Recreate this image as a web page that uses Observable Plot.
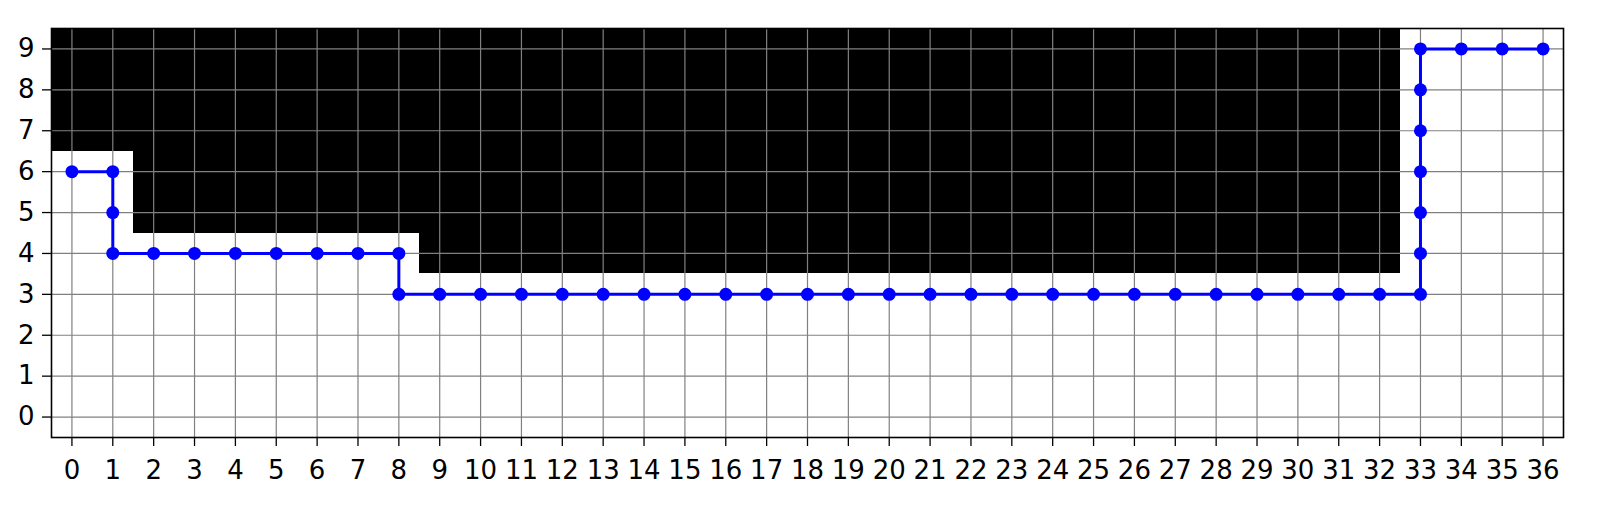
<!DOCTYPE html>
<html>
<head>
<meta charset="utf-8">
<script src="https://cdn.jsdelivr.net/npm/d3@7"></script>
<script src="https://cdn.jsdelivr.net/npm/@observablehq/plot@0.6"></script>
<style>
  html, body { margin: 0; padding: 0; background: #fff; }
  svg { display: block; }
</style>
</head>
<body>
<div id="chart"></div>
<script>
// Obstacle columns and the lowest blocked row in each (blocked up to row 9)
const obstacleCols = [0,1,2,3,4,5,6,7,8,9,10,11,12,13,14,15,16,17,18,19,20,21,22,23,24,25,26,27,28,29,30,31,32];
const obstacleFromRow = [7,7,5,5,5,5,5,5,5,4,4,4,4,4,4,4,4,4,4,4,4,4,4,4,4,4,4,4,4,4,4,4,4];
const topRow = 9;

// Path
const pathX = [0,1,1,1,2,3,4,5,6,7,8,8,9,10,11,12,13,14,15,16,17,18,19,20,21,22,23,24,25,26,27,28,29,30,31,32,33,33,33,33,33,33,33,34,35,36];
const pathY = [6,6,5,4,4,4,4,4,4,4,4,3,3,3,3,3,3,3,3,3,3,3,3,3,3,3,3,3,3,3,3,3,3,3,3,3,3,4,5,6,7,8,9,9,9,9];

// Tick labels
const xTicks = d3.range(0, 37);
const yTicks = d3.range(0, 10);

const obstacles = obstacleCols.map((c, i) => ({x: c, y1: obstacleFromRow[i], y2: topRow}));
const path = pathX.map((x, i) => ({x, y: pathY[i]}));

const font = "DejaVu Sans";
const chart = Plot.plot({
  width: 1610,
  height: 506,
  marginLeft: 51,
  marginRight: 47,
  marginTop: 28,
  marginBottom: 69,
  style: {fontFamily: font, fontSize: "26px", color: "black", background: "white"},
  x: {domain: [-0.5, 36.5], axis: null},
  y: {domain: [-0.5, 9.5], axis: null},
  marks: [
    Plot.rect(obstacles, {
      x1: d => d.x - 0.5, x2: d => d.x + 0.5,
      y1: d => d.y1 - 0.5, y2: d => d.y2 + 0.5,
      fill: "black", inset: 0, shapeRendering: "crispEdges"
    }),
    Plot.gridX(xTicks, {stroke: "#808080", strokeOpacity: 1, strokeWidth: 1.2}),
    Plot.gridY(yTicks, {stroke: "#808080", strokeOpacity: 1, strokeWidth: 1.2}),
    Plot.line(path, {x: "x", y: "y", stroke: "#0000ff", strokeWidth: 3}),
    Plot.dot(path, {x: "x", y: "y", fill: "#0000ff", r: 6.5}),
    Plot.frame({stroke: "black", strokeWidth: 1.6}),
    Plot.axisX(xTicks, {tickSize: 9, tickPadding: 14, strokeWidth: 1.3, fontSize: 26, label: null, tickFormat: d => String(d)}),
    Plot.axisY(yTicks, {tickSize: 9, tickPadding: 8, strokeWidth: 1.3, fontSize: 26, label: null, tickFormat: d => String(d)})
  ]
});
document.getElementById("chart").appendChild(chart);
</script>
</body>
</html>
